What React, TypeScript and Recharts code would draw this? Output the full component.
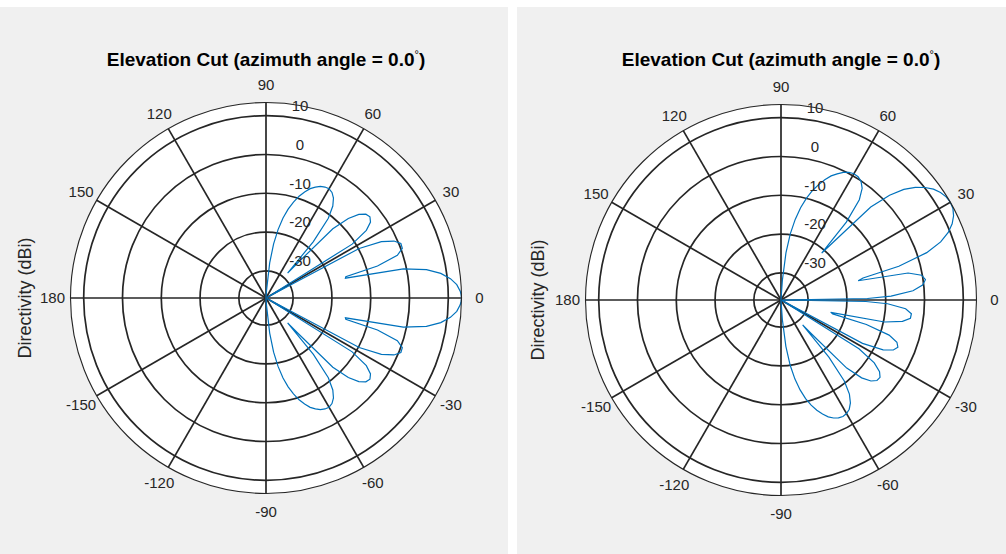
import React from "react";
import {
  RadarChart,
  Radar,
  PolarGrid,
  PolarAngleAxis,
  PolarRadiusAxis,
} from "recharts";

// elevation angles (deg) the patterns were read at
const angles = [
  -90, -88, -86, -84, -82, -80, -78, -76, -74, -72, -70, -68, -66, -64, -62,
  -60, -58, -56, -54, -52, -50, -49, -48, -46, -44, -42, -40, -38, -36, -34,
  -32, -30, -28, -26, -24, -22, -20, -18, -16, -15, -14, -12, -10, -8, -6, -4,
  -2, -1, 0, 1, 2, 4, 6, 8, 10, 12, 14, 15, 16, 18, 20, 22, 24, 26, 28, 30, 32,
  34, 36, 38, 40, 42, 44, 46, 48, 49, 50, 52, 54, 56, 58, 60, 62, 64, 66, 68,
  70, 72, 74, 76, 78, 80, 82, 84, 86, 88, 90,
];

// left plot, beam at broadside (dBi)
const broadside = [
  -36.7, -36.7, -35.1, -27.9, -22.9, -19.1, -15.9, -13.4, -11.3, -9.4, -7.9,
  -6.6, -5.7, -5.0, -4.6, -4.5, -4.9, -5.9, -7.7, -10.9, -18.0, -28.5, -25.2,
  -12.2, -7.5, -4.8, -3.4, -3.0, -3.7, -5.8, -10.8, -36.7, -9.8, -3.9, -0.9,
  0.5, 0.4, -1.4, -7.1, -15.7, -15.9, -0.8, 5.0, 8.5, 10.8, 12.3, 13.1, 13.3,
  13.4, 13.3, 13.1, 12.3, 10.8, 8.5, 5.0, -0.8, -15.9, -15.7, -7.1, -1.4, 0.4,
  0.5, -0.9, -3.9, -9.8, -36.7, -10.8, -5.8, -3.7, -3.0, -3.4, -4.8, -7.5,
  -12.2, -25.2, -28.5, -18.0, -10.9, -7.7, -5.9, -4.9, -4.5, -4.6, -5.0, -5.7,
  -6.6, -7.9, -9.4, -11.3, -13.4, -15.9, -19.1, -22.9, -27.9, -35.1, -36.7,
  -36.7,
];

// right plot, beam steered to 30 deg (dBi)
const steered = [
  -36.7, -36.7, -31.9, -25.0, -20.0, -16.3, -13.3, -10.8, -8.8, -7.1, -5.7,
  -4.5, -3.7, -3.2, -3.0, -3.2, -3.8, -5.0, -7.0, -10.5, -17.8, -28.5, -25.3,
  -12.6, -8.1, -5.8, -4.7, -4.6, -5.6, -8.0, -13.3, -36.7, -13.2, -7.7, -5.3,
  -4.5, -5.2, -7.7, -14.1, -23.2, -23.8, -9.7, -5.2, -3.3, -3.2, -4.8, -9.5,
  -15.1, -36.7, -14.7, -8.6, -2.9, -0.3, 0.6, -0.2, -3.5, -16.5, -15.1, -5.4,
  2.5, 6.8, 9.5, 11.3, 12.5, 13.2, 13.4, 13.2, 12.6, 11.6, 10.1, 8.2, 5.6, 1.9,
  -3.7, -17.4, -21.0, -10.8, -4.2, -1.4, -0.1, 0.5, 0.6, 0.3, -0.4, -1.4, -2.5,
  -4.0, -5.8, -7.7, -10.0, -12.7, -15.9, -19.8, -24.8, -31.9, -36.7, -36.7,
];

const angleTicks = [-150, -120, -90, -60, -30, 0, 30, 60, 90, 120, 150, 180];
const dbTicks = [-30, -20, -10, 0, 10];
const dbRange = [-36.7, 13.4];

const FONT = "'Liberation Sans', Arial, Helvetica, sans-serif";
const INK = "#262626";

const AngleTick = (props: any) => {
  const { x, y, payload } = props;
  return (
    <text x={x} y={y} dy="0.36em" textAnchor="middle" fontSize={15} fill={INK} fontFamily={FONT}>
      {payload.value}
    </text>
  );
};

const DbTick = (props: any) => {
  const { x, y, payload } = props;
  return (
    <text x={x + 34} y={y - 10} dy="0.36em" textAnchor="middle" fontSize={15} fill={INK} fontFamily={FONT}>
      {payload.value}
    </text>
  );
};

type PanelProps = {
  left: number;
  width: number;
  cx: number;
  cy: number;
  labelX: number;
  values: number[];
};

const R = 195.5;

const PatternPanel = ({ left, width, cx, cy, labelX, values }: PanelProps) => {
  const data = angles.map((a, i) => ({ angle: a, db: values[i] }));
  return (
    <div
      style={{
        position: "absolute",
        left,
        top: 7,
        width,
        height: 547,
        background: "#f0f0f0",
        fontFamily: FONT,
      }}
    >
      <div
        style={{
          position: "absolute",
          left: cx - R,
          top: cy - R,
          width: R * 2,
          height: R * 2,
          borderRadius: "50%",
          background: "#fff",
        }}
      />
      <div
        style={{
          position: "absolute",
          left: cx - 250,
          top: 43,
          width: 500,
          textAlign: "center",
          fontSize: 19,
          lineHeight: "19px",
          fontWeight: "bold",
          color: "#000",
          whiteSpace: "nowrap",
        }}
      >
        Elevation Cut (azimuth angle = 0.0
        <span style={{ fontSize: 11, fontWeight: "normal", position: "relative", top: -8 }}>°</span>)
      </div>
      <div
        style={{
          position: "absolute",
          left: labelX - 100,
          top: cy - 10,
          width: 200,
          height: 20,
          lineHeight: "20px",
          textAlign: "center",
          fontSize: 18,
          color: INK,
          transform: "rotate(-90deg)",
          whiteSpace: "nowrap",
        }}
      >
        Directivity (dBi)
      </div>
      <div style={{ position: "absolute", left: 0, top: 0 }}>
        <RadarChart
          width={width}
          height={547}
          data={data}
          cx={cx}
          cy={cy}
          outerRadius={R}
          startAngle={-180}
          endAngle={180}
          margin={{ top: 0, right: 0, bottom: 0, left: 0 }}
        >
          <PolarGrid gridType="circle" stroke={INK} strokeWidth={1.7} />
          <PolarAngleAxis
            dataKey="angle"
            type="number"
            domain={[-180, 180]}
            ticks={angleTicks}
            tickLine={false}
            axisLine={{ stroke: INK, strokeWidth: 1.1 }}
            axisLineType="circle"
            tickSize={18}
            tick={<AngleTick />}
          />
          <PolarRadiusAxis
            angle={90}
            type="number"
            domain={dbRange}
            ticks={dbTicks}
            axisLine={false}
            tick={<DbTick />}
          />
          <Radar
            dataKey="db"
            stroke="#0072BD"
            strokeWidth={1.2}
            fill="none"
            dot={false}
            isAnimationActive={false}
          />
        </RadarChart>
      </div>
    </div>
  );
};

export default function App() {
  return (
    <div
      style={{
        position: "absolute",
        left: 0,
        top: 0,
        width: 1006,
        height: 554,
        background: "#fff",
        overflow: "hidden",
      }}
    >
      <PatternPanel left={0} width={508} cx={266} cy={291} labelX={25} values={broadside} />
      <PatternPanel left={517} width={489} cx={264} cy={293} labelX={21} values={steered} />
    </div>
  );
}
